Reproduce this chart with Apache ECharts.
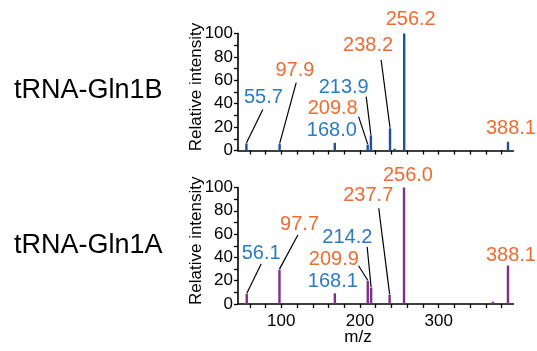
<!DOCTYPE html>
<html>
<head>
<meta charset="utf-8">
<script src="https://cdn.jsdelivr.net/npm/echarts@6/dist/echarts.min.js"></script>
<style>html,body{margin:0;padding:0;background:#fff;}#c{width:537px;height:351px;}</style>
</head>
<body>
<div id="c"></div>
<script>
// ---- data ----
const panelTitles = ['tRNA-Gln1B', 'tRNA-Gln1A'];
const yName = 'Relative intensity';
const xName = 'm/z';
const xTickValues = [60, 80, 100, 120, 140, 160, 180, 200, 220, 240, 260, 280, 300, 320, 340, 360, 380];
const xLabelValues = [100, 200, 300];

// tRNA-Gln1B peaks
const mzB = [55.7, 97.9, 168.0, 209.8, 213.9, 238.2, 244.0, 256.2, 388.1];
const intB = [6, 5.5, 6.5, 5, 13, 19, 1.5, 100, 7.5];
const labB = ['55.7', '97.9', '168.0', '209.8', '213.9', '238.2', '', '256.2', '388.1'];
const kindB = ['b', 'o', 'b', 'o', 'b', 'o', '', 'o', 'o'];

// tRNA-Gln1A peaks
const mzA = [56.1, 97.7, 168.1, 209.9, 214.2, 237.7, 256.0, 369.0, 388.1];
const intA = [8.6, 29.5, 9.2, 20, 14, 8, 100, 2, 33];
const labA = ['56.1', '97.7', '168.1', '209.9', '214.2', '237.7', '256.0', '', '388.1'];
const kindA = ['b', 'o', 'b', 'o', 'b', 'o', 'o', '', 'o'];

// ---- layout (label offsets relative to bar top, px): [labelDx, labelDy, lineDx, lineDy] ----
const layoutB = [[17, -46, 16.4, -34], [15.3, -73.3, 16.6, -61.4], [-3, -12], [-35, -35.7, -9.1, -28],
  [-27.2, -47.8, -4.7, -38.6], [-21.9, -82.5, -8.9, -68.3], null, [6.5, -14.5], [3, -13.4]];
const layoutA = [[14.4, -40, 14.4, -30], [20.1, -45.6, 18.4, -34.6], [-2, -12], [-33.9, -21.7, -9.2, -15],
  [-23.8, -50.2, -4, -41], [-21.4, -98.9, -10.9, -86.4], [3.9, -12.5], null, [3, -9.6]];

const ORANGE = '#EC6D34', BLUE = '#2A7AC4';
const FONT = '"Liberation Sans", Arial, sans-serif';

function peakSeries(idx, mz, inten, lab, kind, layout, barColor) {
  return {
    type: 'custom', xAxisIndex: idx, yAxisIndex: idx, clip: false,
    data: mz.map((m, i) => [m, inten[i], i]),
    renderItem: function (params, api) {
      const i = api.value(2);
      const base = api.coord([api.value(0), 0]);
      const top = api.coord([api.value(0), api.value(1)]);
      const w = 2.4;
      const children = [{ type: 'rect', shape: { x: top[0] - w / 2, y: top[1], width: w, height: base[1] - top[1] }, style: { fill: barColor } }];
      const L = layout[i];
      if (lab[i] && L) {
        children.push({ type: 'text', x: top[0] + L[0], y: top[1] + L[1],
          style: { text: lab[i], fill: kind[i] === 'b' ? BLUE : ORANGE, font: '20px ' + FONT, align: 'center', verticalAlign: 'middle' } });
        if (L.length > 2) {
          children.push({ type: 'line', shape: { x1: top[0] + L[2], y1: top[1] + L[3], x2: top[0], y2: top[1] - 0.5 },
            style: { stroke: '#000', lineWidth: 1.2 } });
        }
      }
      return { type: 'group', children: children };
    }
  };
}

function xAxis(idx, showLabels) {
  return {
    type: 'value', gridIndex: idx, min: 45, max: 395,
    axisLine: { show: true, onZero: false, lineStyle: { color: '#000', width: 1.6 } },
    axisTick: { show: true, length: 4, customValues: xTickValues, lineStyle: { color: '#000', width: 1.3 } },
    axisLabel: { show: showLabels, customValues: xLabelValues, margin: 9, color: '#000', fontSize: 17, fontFamily: FONT },
    splitLine: { show: false }
  };
}
function yAxis(idx) {
  return {
    type: 'value', gridIndex: idx, min: 0, max: 100, interval: 20,
    name: yName, nameLocation: 'middle', nameRotate: 90, nameGap: 33, nameMoveOverlap: false,
    nameTextStyle: { color: '#000', fontSize: 17, fontFamily: FONT, padding: [0, 0, 0, 10] },
    axisLine: { show: true, lineStyle: { color: '#000', width: 1.6 } },
    axisTick: { show: true, length: 4, lineStyle: { color: '#000', width: 1.3 } },
    minorTick: { show: true, splitNumber: 2, length: 4, lineStyle: { color: '#000', width: 1.3 } },
    axisLabel: { margin: 5, color: '#000', fontSize: 17, fontFamily: FONT },
    splitLine: { show: false }
  };
}

const chart = echarts.init(document.getElementById('c'), null, { renderer: 'canvas' });
chart.setOption({
  animation: false,
  backgroundColor: '#fff',
  grid: [
    { left: 238, right: 23.6, top: 33.5, height: 117 },
    { left: 238, right: 23.6, top: 187.5, height: 116.5 }
  ],
  xAxis: [xAxis(0, false), xAxis(1, true)],
  yAxis: [yAxis(0), yAxis(1)],
  graphic: [
    { type: 'text', left: 14, top: 77, style: { text: panelTitles[0], fill: '#000', font: '27px ' + FONT } },
    { type: 'text', left: 14, top: 232, style: { text: panelTitles[1], fill: '#000', font: '27px ' + FONT } },
    { type: 'text', x: 358, y: 337, style: { text: xName, fill: '#000', font: '17px ' + FONT, align: 'center', verticalAlign: 'middle' } }
  ],
  series: [
    peakSeries(0, mzB, intB, labB, kindB, layoutB, '#1F4FA0'),
    peakSeries(1, mzA, intA, labA, kindA, layoutA, '#7B2F8E')
  ]
});
</script>
</body>
</html>
